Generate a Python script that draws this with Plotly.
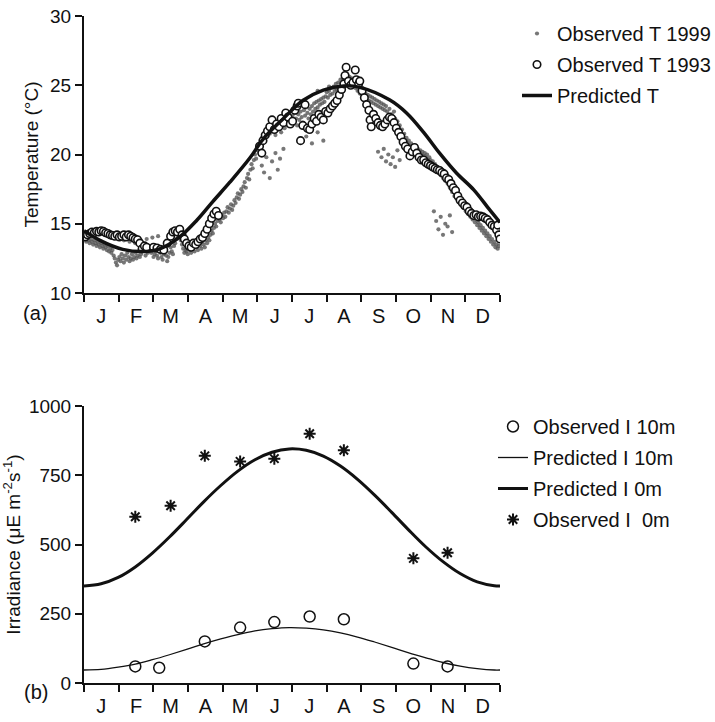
import plotly.graph_objects as go

# ---------------- data ----------------
months = ["J", "F", "M", "A", "M", "J", "J", "A", "S", "O", "N", "D"]

# Observed T 1999 (day of year, deg C)
t99_day = [
    0, 1, 2, 3, 4, 5, 6, 7, 8, 9, 10, 11, 12, 13, 14, 15, 16, 17, 18, 19, 20, 21, 22, 23, 24, 25, 26, 27, 28, 29, 30,
    31, 32, 33, 34, 35, 36, 37, 38, 39, 40, 41, 42, 43, 44, 45, 46, 47, 48, 49, 50, 52, 54, 56, 58,
    35, 40, 45, 50, 55, 60, 65,
    59, 60, 61, 62, 63, 64, 65, 66, 67, 68, 69, 70, 71, 72, 73, 74, 75, 76, 77, 78, 79, 80, 81, 82, 83, 84, 85, 86, 87, 88, 89,
    90, 91, 92, 93, 94, 95, 96, 97, 98, 99, 100, 101, 102, 103, 104, 105, 106, 107, 108, 109, 110, 111, 112, 113, 114, 115, 116, 117, 118, 119,
    120, 121, 122, 123, 124, 125, 126, 127, 128, 129, 130, 131, 132, 133, 134, 135, 136, 137, 138, 139, 140, 141, 142, 143, 144, 145, 146, 147, 148, 149, 150,
    151, 152, 153, 154, 155, 156, 157, 158, 159, 160, 161, 162, 163, 164, 165, 166, 167, 168, 169, 170, 171, 172, 173, 174, 175, 176, 177, 178, 179, 180,
    156, 158, 160, 163, 165, 168, 170, 172, 175,
    181, 182, 183, 184, 185, 186, 187, 188, 189, 190, 191, 192, 193, 194, 195, 196, 197, 198, 199, 200, 201, 202, 203, 204, 205, 206, 207, 208, 209, 210, 211,
    195, 200, 205, 210, 205, 215,
    212, 213, 214, 215, 216, 217, 218, 219, 220, 221, 222, 223, 224, 225, 226, 227, 228, 229, 230, 231, 232, 233, 234, 235, 236, 237, 238, 239, 240, 241, 242,
    243, 244, 245, 246, 247, 248, 249, 250, 251, 252, 253, 254, 255, 256, 257, 258, 259, 260, 261, 262, 263, 264, 265, 266, 268, 270, 272,
    258, 261, 263, 265, 267, 269, 271, 273, 275, 277,
    273, 274, 275, 276, 277, 278, 279, 280, 281, 282, 283, 284, 285, 286, 287, 288, 289, 290, 291, 292, 293, 294, 295, 296, 297, 298, 299, 300, 301, 302, 303,
    304, 305, 306, 307, 308, 309, 310, 311, 312, 313, 314, 315, 316, 317, 318, 319, 320, 321, 322, 323, 324, 325, 326, 327, 328, 329, 330, 331, 332, 333,
    307, 309, 311, 313, 315, 317, 319, 321, 323,
    334, 335, 336, 337, 338, 339, 340, 341, 342, 343, 344, 345, 346, 347, 348, 349, 350, 351, 352, 353, 354, 355, 356, 357, 358, 359, 360, 361, 362, 363, 364,
]
t99_temp = [
    14.1, 13.9, 13.7, 14.0, 13.8, 13.6, 13.9, 13.7, 13.5, 13.8, 13.6, 13.4, 13.7, 13.5, 13.3, 13.6, 13.4, 13.2, 13.5, 13.3, 13.1, 13.4, 13.0, 13.2, 12.9, 13.1, 12.7, 12.5, 12.2, 12.0, 12.4,
    12.6, 12.3, 12.8, 12.5, 12.2, 12.7, 12.4, 12.9, 12.6, 12.3, 12.5, 12.8, 12.4, 12.6, 12.9, 12.5, 12.7, 13.0, 12.6, 12.8, 13.1, 12.7, 12.9, 13.2,
    13.8, 13.7, 13.6, 13.8, 13.9, 14.0, 14.1,
    12.9, 13.1, 12.6, 12.8, 13.0, 12.7, 12.5, 13.2, 12.9, 12.6, 12.4, 12.8, 13.1, 12.7, 12.3, 12.6, 12.9, 13.3, 13.0, 12.8, 13.4, 13.6, 13.9, 14.2, 14.0, 14.3, 13.8, 13.5, 13.2, 12.9, 13.1,
    13.0, 12.8, 13.3, 13.1, 12.9, 13.4, 13.2, 13.0, 13.5, 13.3, 13.1, 13.6, 13.4, 13.2, 13.7, 13.5, 13.3, 13.8, 13.6, 14.0, 13.8, 14.2, 14.5, 14.3, 14.7, 15.0, 14.8, 15.2, 15.5, 15.3,
    15.1, 15.6, 15.4, 15.8, 15.5, 15.9, 16.2, 15.8, 16.1, 16.4, 16.0, 16.3, 16.7, 16.5, 16.9, 17.2, 16.8, 17.1, 17.5, 17.3, 17.7, 18.0, 17.6, 18.3, 18.6, 18.2, 18.9, 19.3, 19.0, 19.6, 20.0,
    19.7, 20.3, 20.6, 20.1, 20.9, 21.2, 20.8, 21.4, 21.0, 21.6, 21.3, 21.8, 21.5, 22.0, 21.7, 22.2, 21.9, 21.4, 22.1, 21.8, 22.3, 22.0, 21.6, 22.2, 22.5, 21.9, 22.4, 22.1, 22.7, 22.3,
    19.2, 18.7, 19.8, 18.3, 19.5, 20.1, 18.9, 19.7, 20.4,
    22.6, 22.2, 22.8, 22.4, 23.0, 22.6, 22.1, 22.9, 22.5, 23.1, 22.7, 22.3, 23.2, 22.8, 23.4, 23.0, 22.6, 23.3, 22.9, 23.5, 23.1, 23.7, 23.3, 23.8, 23.4, 23.9, 23.6, 24.0, 23.7, 24.1, 23.8,
    21.3, 20.8, 21.6, 21.0, 24.6, 24.9,
    24.2, 24.5, 24.1, 24.6, 24.3, 24.8, 24.4, 24.9, 24.6, 25.1, 24.7, 25.2, 24.9, 25.4, 25.0, 25.5, 25.2, 25.7, 25.3, 25.8, 25.4, 25.6, 25.1, 25.5, 24.9, 25.3, 24.8, 25.0, 24.6, 24.9, 24.4,
    24.7, 24.3, 24.5, 24.1, 24.4, 24.0, 24.3, 23.9, 24.2, 23.8, 24.1, 23.7, 24.0, 23.6, 23.9, 23.5, 23.8, 23.4, 23.7, 23.3, 23.6, 23.2, 23.5, 23.1, 23.3, 22.9, 23.1,
    20.2, 19.8, 20.4, 19.5, 20.0, 19.3, 19.8, 19.1, 20.3, 19.6,
    22.6, 22.2, 22.4, 21.9, 22.1, 21.6, 21.8, 21.3, 21.5, 21.0, 21.2, 20.8, 21.0, 20.6, 20.8, 20.4, 20.6, 20.3, 20.5, 20.2, 20.4, 20.1, 20.3, 20.0, 20.2, 19.9, 20.1, 19.8, 20.0, 19.6, 19.8,
    19.6, 19.3, 19.5, 19.1, 19.3, 18.9, 19.1, 18.7, 18.9, 18.5, 18.7, 18.3, 18.5, 18.1, 18.3, 17.9, 18.1, 17.6, 17.8, 17.3, 17.5, 17.0, 17.2, 16.8, 17.0, 16.6, 16.8, 16.4, 16.6, 16.2,
    15.9, 15.2, 14.6, 15.5, 14.2, 15.0, 14.8, 15.6, 14.4,
    16.3, 15.9, 16.1, 15.7, 15.9, 15.5, 15.7, 15.3, 15.5, 15.1, 15.3, 14.9, 15.1, 14.7, 14.9, 14.5, 14.7, 14.3, 14.5, 14.1, 14.3, 13.9, 14.1, 13.7, 13.9, 13.5, 13.7, 13.3, 13.5, 13.2, 13.4,
]

# Observed T 1993 (day of year, deg C)
t93_day = [
    1, 3, 5, 7, 9, 11, 13, 15, 17, 19, 21, 23, 25, 27, 29, 31, 33, 35, 37, 39, 41, 43, 45, 47, 49, 51, 53, 55,
    61, 64, 67, 70, 73, 76, 78, 80, 82, 84, 86, 88, 90, 92, 94, 96, 98, 100, 102, 104, 106, 108, 110, 112, 114, 116, 118,
    154, 156, 157, 159, 161, 163, 165, 167, 169, 171, 173, 175, 177, 179, 181, 183, 185, 187, 188, 190, 192, 194, 196, 198,
    200, 202, 204, 206, 208, 210, 212, 214, 216, 218, 220, 222, 224, 226, 228, 229, 230, 232, 234, 236, 238, 239, 241, 242,
    244, 246, 248, 250, 251, 252, 254, 256, 258, 260, 262, 264, 266, 268, 270, 272, 274, 276, 278, 280, 282, 284, 286, 288,
    290, 292, 294, 296, 298, 300, 302, 304, 306, 308, 310, 312, 314, 316, 318, 320, 322, 324, 326, 328, 330, 332, 334, 336,
    338, 340, 342, 344, 346, 348, 350, 352, 354, 356, 358, 360, 362, 363, 364, 365,
]
t93_temp = [
    14.05, 14.2, 14.3, 14.4, 14.35, 14.45, 14.4, 14.5, 14.45, 14.35, 14.3, 14.2, 14.15, 14.1, 14.2, 14.05, 14.1, 14.2, 14.05, 14.2, 14.1, 14.0, 13.9, 13.85, 13.6, 13.2, 13.4, 13.3,
    13.3, 13.25, 13.15, 13.1, 13.6, 14.1, 14.4, 14.5, 14.4, 14.6, 14.2, 13.9, 13.6, 13.4, 13.3, 13.6, 13.5, 13.7, 13.9, 14.0, 14.3, 14.6, 15.0, 15.4, 15.7, 15.9, 15.6,
    20.6, 20.1, 21.0, 21.4, 21.7, 22.0, 22.5, 21.8, 22.2, 22.0, 22.6, 22.3, 23.0, 22.7, 22.2, 22.4, 23.2, 23.5, 23.7, 21.0, 22.1, 23.6, 21.9, 21.8,
    22.2, 22.6, 22.4, 22.9, 22.7, 22.5, 23.1, 23.0, 23.3, 23.5, 23.7, 23.9, 24.3, 24.7, 25.1, 25.7, 26.3, 25.3, 25.0, 25.2, 26.1, 25.4, 25.1, 25.3,
    24.6, 24.1, 23.6, 23.2, 22.5, 22.0, 22.9, 22.6, 22.3, 22.1, 22.0, 22.2, 22.5, 22.7, 22.6, 22.3, 21.9, 21.6, 21.3, 20.9, 20.6, 20.4, 19.9, 20.2,
    20.5, 20.1, 19.8, 19.6, 19.6, 19.4, 19.3, 19.2, 19.1, 19.0, 18.9, 18.85, 18.7, 18.6, 18.3, 18.2, 17.9, 17.6, 17.4, 17.0, 16.7, 16.5, 16.3, 16.2,
    15.9, 15.75, 15.6, 15.65, 15.5, 15.55, 15.5, 15.4, 15.3, 15.1, 14.9, 14.8, 14.55, 14.9, 14.2, 13.9,
]

# Predicted T
predT_day = [0, 14, 34, 55, 67, 84, 99, 113, 128, 146, 157, 175, 192, 210, 228, 242, 268, 283, 298, 312, 327, 342, 356, 365]
predT_val = [14.5, 13.8, 13.15, 13.0, 13.2, 14.05, 15.25, 16.6, 18.0, 19.8, 21.1, 22.6, 23.9, 24.65, 24.95, 24.85, 23.95, 23.0, 21.6, 20.1, 18.65, 17.45, 16.0, 15.1]

# Irradiance
obs10_day = [45, 66, 106, 137, 167, 198, 228, 289, 319]
obs10_val = [60, 55, 150, 200, 220, 240, 230, 70, 60]
obs0_day = [45, 76, 106, 137, 167, 198, 228, 289, 319]
obs0_val = [600, 640, 820, 800, 810, 900, 840, 450, 470]
pred_day = [0, 15, 30, 45, 60, 75, 90, 105, 120, 135, 150, 165, 180, 195, 210, 225, 240, 255, 270, 285, 300, 315, 330, 345, 360, 365]
pred0_val = [350, 358, 381, 419, 469, 527, 590, 654, 713, 765, 806, 833, 845, 840, 819, 783, 735, 678, 616, 552, 491, 438, 395, 365, 351, 350]
pred10_val = [47, 49, 57, 68, 84, 102, 121, 141, 159, 175, 188, 196, 200, 198, 192, 181, 166, 148, 129, 109, 91, 74, 61, 52, 47, 47]

# ---------------- layout geometry ----------------
W, H = 715, 722
ML, MR, MT, MB = 84, 215, 16, 39
PH = H - MT - MB


def pyf(ypix):
    return (H - MB - ypix) / PH


def pxf(xpix):
    return (xpix - ML) / (W - ML - MR)


FONT = "Liberation Sans, Arial, Helvetica, sans-serif"
INK = "#111111"

bounds = [i * 365 / 12 for i in range(13)]
mids = [(i + 0.5) * 365 / 12 for i in range(12)]

fig = go.Figure()

# top panel
fig.add_trace(go.Scatter(x=t99_day, y=t99_temp, mode="markers", name="Observed T 1999",
                         marker=dict(size=4.2, color="rgba(85,85,85,0.8)"),
                         xaxis="x", yaxis="y", legend="legend", legendgroup="a1"))
fig.add_trace(go.Scatter(x=t93_day, y=t93_temp, mode="markers", name="Observed T 1993",
                         marker=dict(size=7.5, color="white", symbol="circle",
                                     line=dict(color=INK, width=1.6)),
                         xaxis="x", yaxis="y", legend="legend", legendgroup="a2"))
fig.add_trace(go.Scatter(x=predT_day, y=predT_val, mode="lines", name="Predicted T",
                         line=dict(color=INK, width=3.5, shape="spline", smoothing=1.0),
                         xaxis="x", yaxis="y", legend="legend", legendgroup="a3"))

# bottom panel
fig.add_trace(go.Scatter(x=obs10_day, y=obs10_val, mode="markers", name="Observed I 10m",
                         marker=dict(size=11, color="white", symbol="circle",
                                     line=dict(color=INK, width=1.5)),
                         xaxis="x2", yaxis="y2", legend="legend2", legendgroup="b1"))
fig.add_trace(go.Scatter(x=pred_day, y=pred10_val, mode="lines", name="Predicted I 10m",
                         line=dict(color=INK, width=1.3, shape="spline"),
                         xaxis="x2", yaxis="y2", legend="legend2", legendgroup="b2"))
fig.add_trace(go.Scatter(x=pred_day, y=pred0_val, mode="lines", name="Predicted I 0m",
                         line=dict(color=INK, width=3, shape="spline"),
                         xaxis="x2", yaxis="y2", legend="legend2", legendgroup="b3"))
fig.add_trace(go.Scatter(x=obs0_day, y=obs0_val, mode="markers", name="Observed I  0m",
                         marker=dict(size=10, color=INK, symbol="asterisk-open",
                                     line=dict(color=INK, width=2)),
                         xaxis="x2", yaxis="y2", legend="legend2", legendgroup="b4"))

axline = dict(showgrid=False, zeroline=False, showline=True, linecolor=INK, linewidth=2,
              tickfont=dict(family=FONT, size=19, color=INK))

xcommon = dict(axline, range=[0, 365], tickmode="array", tickvals=mids, ticktext=months,
               ticks="outside", ticklen=4, tickwidth=2, tickcolor="rgba(0,0,0,0)",
               tickfont=dict(family=FONT, size=20, color=INK),
               minor=dict(tickmode="array", tickvals=bounds, ticks="outside", ticklen=7,
                          tickwidth=2, tickcolor=INK))

fig.update_layout(
    width=W, height=H,
    margin=dict(l=ML, r=MR, t=MT, b=MB, autoexpand=False),
    paper_bgcolor="white", plot_bgcolor="white",
    font=dict(family=FONT, size=18, color=INK),
    showlegend=True,
    xaxis=dict(xcommon, domain=[0, 1], anchor="y"),
    yaxis=dict(axline, domain=[pyf(293), 1], anchor="x", range=[10, 30], tickvals=[10, 15, 20, 25, 30],
               ticks="outside", ticklen=7, tickwidth=2, tickcolor=INK,
               title=dict(text="Temperature (°C)", font=dict(family=FONT, size=19), standoff=6)),
    xaxis2=dict(xcommon, domain=[0, 1], anchor="y2"),
    yaxis2=dict(axline, domain=[0, pyf(406)], anchor="x2", range=[0, 1000], tickvals=[0, 250, 500, 750, 1000],
                ticks="outside", ticklen=7, tickwidth=2, tickcolor=INK,
                title=dict(text="Irradiance (μE m<sup>-2</sup>s<sup>-1</sup>)", font=dict(family=FONT, size=19), standoff=4)),
    legend=dict(x=pxf(517), y=pyf(14), xanchor="left", yanchor="top", bgcolor="rgba(0,0,0,0)",
                font=dict(family=FONT, size=20, color=INK), tracegroupgap=2, itemsizing="trace"),
    legend2=dict(x=pxf(493), y=pyf(407), xanchor="left", yanchor="top", bgcolor="rgba(0,0,0,0)",
                 font=dict(family=FONT, size=20, color=INK), tracegroupgap=2, itemsizing="trace"),
    annotations=[
        dict(text="(a)", x=pxf(21), y=pyf(313), xref="paper", yref="paper", showarrow=False,
             font=dict(family=FONT, size=20, color=INK)),
        dict(text="(b)", x=pxf(22), y=pyf(705), xref="paper", yref="paper", showarrow=False,
             font=dict(family=FONT, size=20, color=INK)),
    ],
)

fig.write_html("out.html")
